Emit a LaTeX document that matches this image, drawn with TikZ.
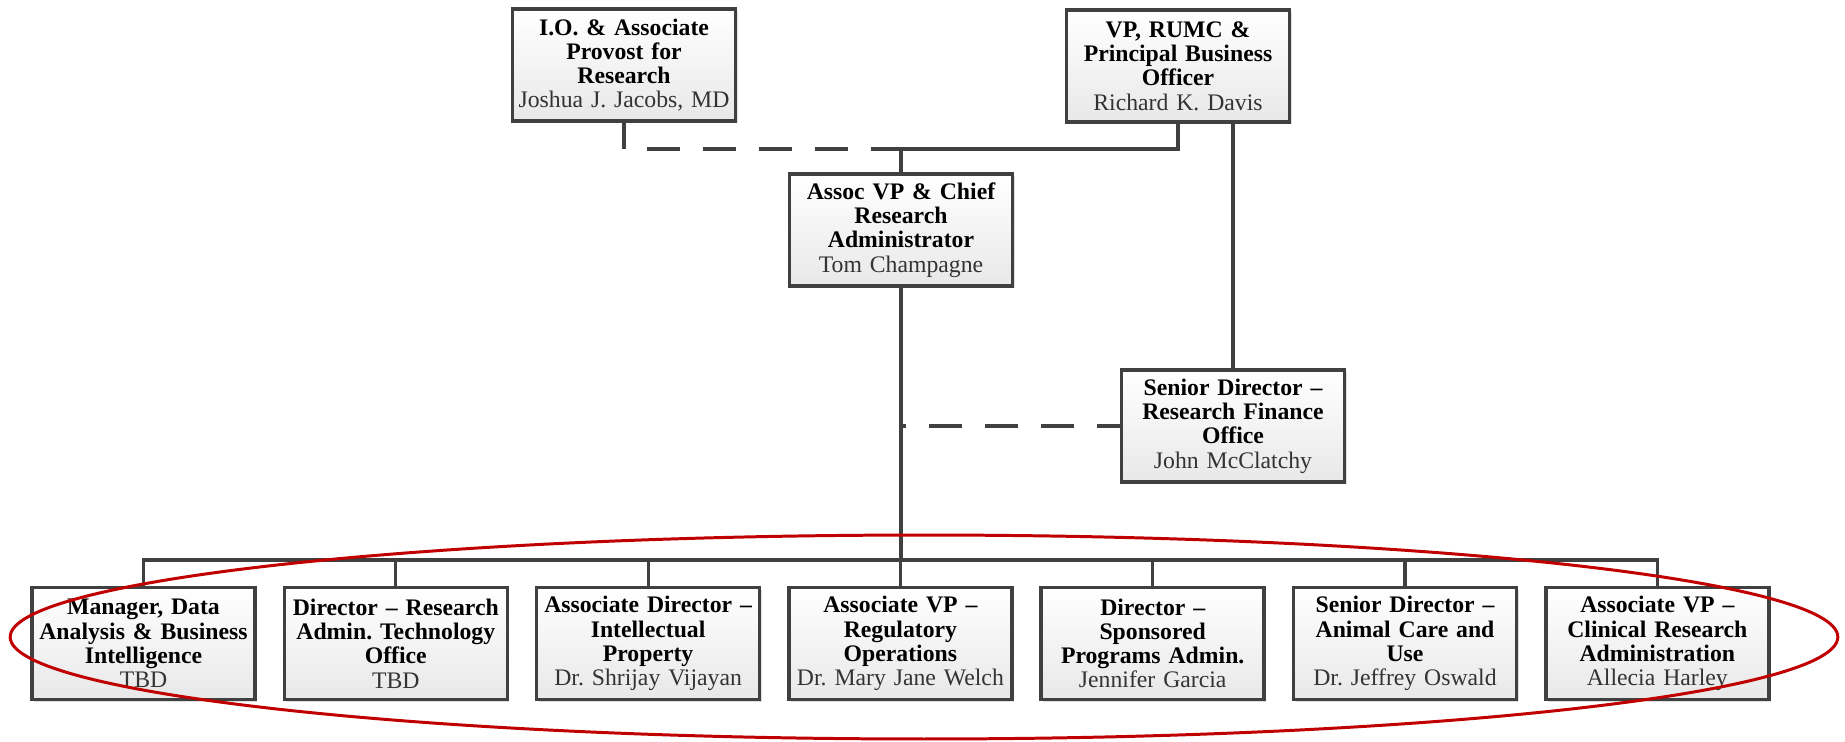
\documentclass[tikz,border=0pt]{standalone}
\usepackage{fontspec}
\setmainfont{Liberation Serif}
\usetikzlibrary{shadows}
\definecolor{boxline}{RGB}{64,64,64}
\definecolor{namegray}{RGB}{51,51,51}
\definecolor{ovalred}{RGB}{192,0,0}
\newcommand{\who}[1]{{\mdseries\color{namegray}#1}}
\frenchspacing

\begin{document}
\begin{tikzpicture}[x=0.02cm,y=-0.02cm,
  block/.style={rectangle,draw=boxline,line width=2pt,top color=white,bottom color=gray!18,
    minimum width=4.46cm,minimum height=2.24cm,text width=4.4cm,align=center,inner sep=0pt,
    font=\fontsize{13.5}{13.8}\selectfont\bfseries,
    drop shadow={shadow xshift=1.2pt,shadow yshift=-1.2pt,opacity=0.25}},
  link/.style={draw=boxline,line width=1.8pt}]
\useasboundingbox (0,0) rectangle (1845,741);
\coordinate (jn) at (901,149);
\coordinate (bus) at (901,560);
\path
(624,65) node [block] (io) {I.O. \& Associate\\Provost for\\Research\\\who{Joshua J. Jacobs, MD}}
(1178,66) node [block] (vp) {VP, RUMC \&\\Principal Business\\Officer\\\who{Richard K. Davis}}
(901,230) node [block] (avp) {Assoc VP \& Chief\\Research\\Administrator\\\who{Tom Champagne}}
(1233,426) node [block] (fin) {Senior Director --\\Research Finance\\Office\\\who{John McClatchy}}
;
% bottom row
\path
(143.5,643.5) node [block] (b1) {Manager, Data\\Analysis \& Business\\Intelligence\\\who{TBD}}
(395.8,643.5) node [block] (b2) {Director -- Research\\Admin. Technology\\Office\\\who{TBD}}
(648.1,643.5) node [block] (b3) {Associate Director --\\Intellectual\\Property\\\who{Dr. Shrijay Vijayan}}
(900.4,643.5) node [block] (b4) {Associate VP --\\Regulatory\\Operations\\\who{Dr. Mary Jane Welch}}
(1152.7,643.5) node [block] (b5) {Director --\\Sponsored\\Programs Admin.\\\who{Jennifer Garcia}}
(1405,643.5) node [block] (b6) {Senior Director --\\Animal Care and\\Use\\\who{Dr. Jeffrey Oswald}}
(1657.3,643.5) node [block] (b7) {Associate VP --\\Clinical Research\\Administration\\\who{Allecia Harley}}
;

\begin{scope}[every path/.style=link]
\path (avp.north) -- (jn) -| (vp.south);
\path (io.south) -- (io.south |- jn) coordinate (iocorner);
\path[dash pattern=on 0.66cm off 0.46cm,dash phase=0.66cm] (iocorner) -- (jn);
\path (fin.north) -- (fin.north |- vp.south);
\path (avp.south) -- (bus);
\path[dash pattern=on 0.66cm off 0.46cm,dash phase=0.56cm] (avp.south |- fin.west) -- (fin.west);
\path (b1.north) |- (bus) -| (b7.north);
\path (b2.north) -- (b2.north |- bus);
\path (b3.north) -- (b3.north |- bus);
\path (b4.north) -- (b4.north |- bus);
\path (b5.north) -- (b5.north |- bus);
\path (b6.north) -- (b6.north |- bus);
\end{scope}
  %\draw[help lines] (0,0) grid (1845,741);
\draw[ovalred,line width=1.7pt] (924,637) ellipse [x radius=18.28cm,y radius=2.04cm];
\end{tikzpicture}
\end{document}
